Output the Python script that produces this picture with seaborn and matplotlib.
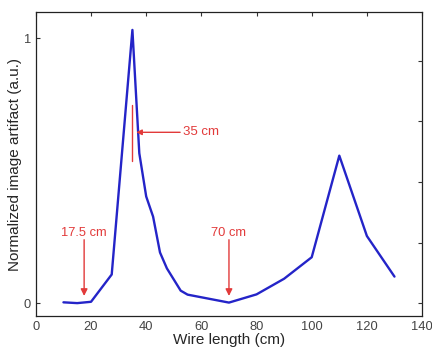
import numpy as np
import pandas as pd
import matplotlib
matplotlib.use("Agg")
import matplotlib.pyplot as plt
import seaborn as sns

# wire length (cm) vs normalized artifact
wire_length = [10, 15, 20, 27.5, 35, 37.5, 40, 42.5, 45, 47.5, 52.5, 55,
               70, 80, 90, 100, 110, 120, 130]
artifact = [0.004, 0.001, 0.006, 0.109, 1.031, 0.566, 0.403, 0.327, 0.192,
            0.132, 0.048, 0.033, 0.003, 0.034, 0.093, 0.174, 0.557, 0.254, 0.101]

# down-arrow markers
arrow_x = [17.5, 70]
arrow_labels = ["17.5 cm", "70 cm"]

x_ticks = [0, 20, 40, 60, 80, 100, 120, 140]
y_ticks = [0, 1]

sns.set_style("white")
plt.rcParams["font.family"] = ["Liberation Sans", "DejaVu Sans"]

df = pd.DataFrame({"Wire length (cm)": wire_length,
                   "artifact": artifact})

fig = plt.figure(figsize=(4.32, 3.47), dpi=100)
ax = fig.add_axes([0.083, 0.089, 0.894, 0.876])

sns.lineplot(data=df, x="Wire length (cm)", y="artifact", ax=ax,
             color="#2424c8", linewidth=1.7)

red = "#e23a3a"
for xa, lab in zip(arrow_x, arrow_labels):
    ax.annotate("", xy=(xa, 0.028), xytext=(xa, 0.24),
                arrowprops=dict(arrowstyle="-|>", color=red, lw=1.0,
                                mutation_scale=10, shrinkA=0, shrinkB=0))
    ax.text(xa, 0.266, lab, color=red, fontsize=9.3, ha="center", va="center")

# 35 cm marker: vertical tick plus arrow from the label
ax.plot([35, 35], [0.538, 0.748], color=red, lw=1.0)
ax.annotate("", xy=(36.4, 0.645), xytext=(52.3, 0.645),
            arrowprops=dict(arrowstyle="-|>", color=red, lw=1.0,
                            mutation_scale=8, shrinkA=0, shrinkB=0))
ax.text(53.3, 0.645, "35 cm", color=red, fontsize=9.5, ha="left", va="center")

ax.set_xlim(0, 140)
ax.set_ylim(-0.048, 1.098)
ax.set_xticks(x_ticks)
ax.set_yticks(y_ticks)
ax.set_xlabel("Wire length (cm)", fontsize=11, labelpad=0)
ax.set_ylabel("Normalized image artifact (a.u.)", fontsize=11, labelpad=1)
ax.tick_params(axis="both", direction="in", labelsize=9.3, length=3,
               top=True, right=False, colors="#333333", labelcolor="#444444")

for s in ax.spines.values():
    s.set_color("#222222")
    s.set_linewidth(0.9)

# right side has its own tick spacing
ax2 = ax.twinx()
ax2.set_ylim(ax.get_ylim())
ax2.set_yticks([0, 0.2286, 0.4572, 0.6858, 0.9144])
ax2.tick_params(axis="y", direction="in", length=3, labelright=False,
                colors="#333333")
for s in ax2.spines.values():
    s.set_visible(False)

fig.savefig("out.png", dpi=100)
